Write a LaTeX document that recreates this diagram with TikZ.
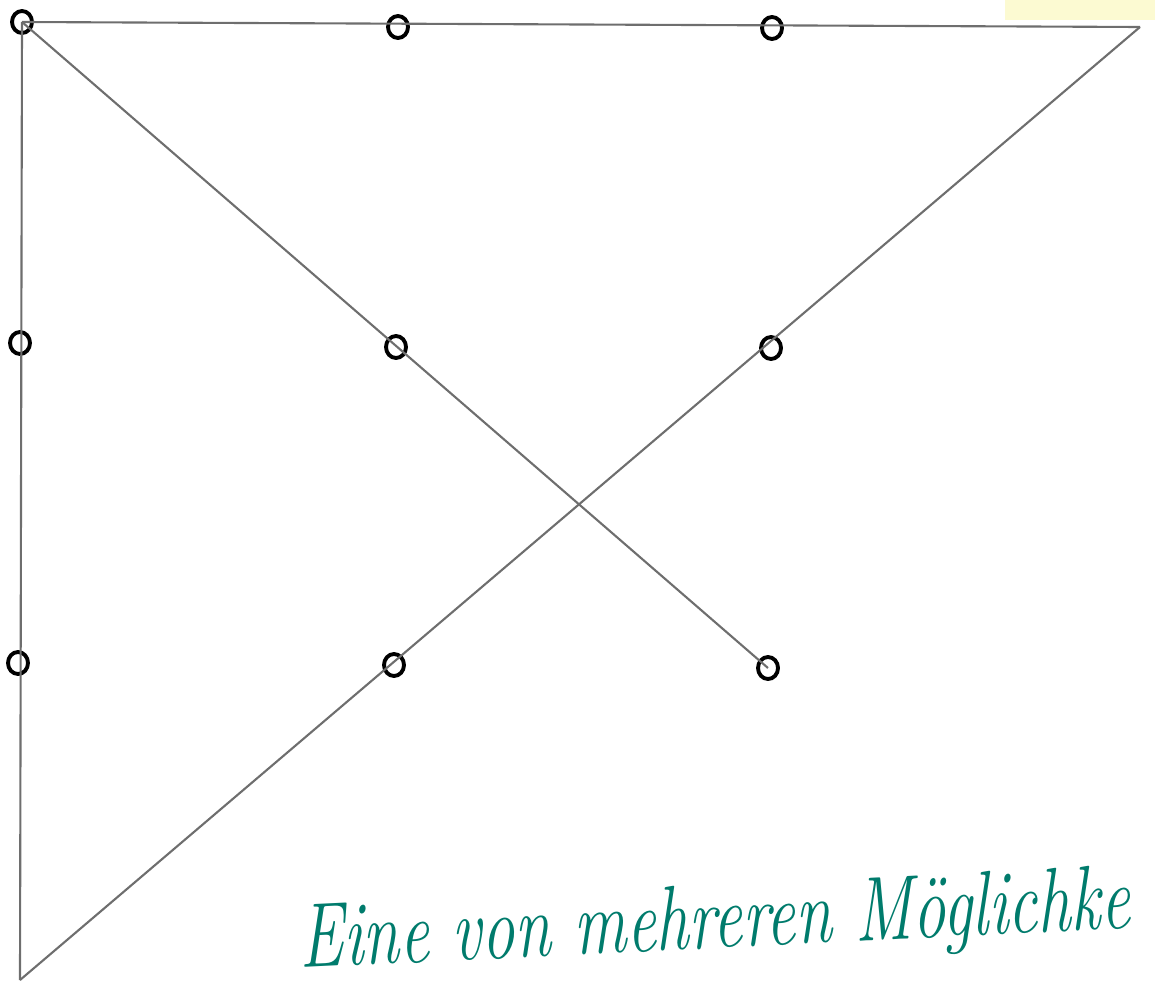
\documentclass[tikz,border=0pt]{standalone}
\usetikzlibrary{shapes.geometric}
\definecolor{inkgreen}{HTML}{007B6C}
\definecolor{pencil}{HTML}{6E6E6E}
\definecolor{paperyellow}{HTML}{FCFAD2}
\begin{document}
\begin{tikzpicture}[x=0.01cm, y=-0.01cm,
      dot/.style={ellipse, draw, line width=1.1pt,
                  minimum width=0.2cm, minimum height=0.22cm, inner sep=0pt},
      stroke/.style={draw=pencil, line width=0.6pt},
      note/.style={text=inkgreen, font=\fontsize{26}{30}\selectfont\itshape,
                   anchor=base west, xscale=0.72, rotate=2, inner sep=0pt}
    ]
    \useasboundingbox (0,0) rectangle (1155,988);
    \fill[paperyellow] (1005,0) rectangle (1155,20);
    % the nine points
    \node[dot] (d11) at (22, 22)   {};
    \node[dot] (d12) at (398, 27)  {};
    \node[dot] (d13) at (772, 28)  {};
    \node[dot] (d21) at (20, 343)  {};
    \node[dot] (d22) at (396, 347) {};
    \node[dot] (d23) at (771, 348) {};
    \node[dot] (d31) at (18, 663)  {};
    \node[dot] (d32) at (394, 665) {};
    \node[dot] (d33) at (768, 668) {};
    \coordinate (tr) at (1140, 27);
    \coordinate (bl) at (20, 980);
    % four strokes
    \draw[stroke] (d11.center) -- (tr);
    \draw[stroke] (tr) -- (bl);
    \draw[stroke] (bl) -- (d11.center);
    \draw[stroke] (d11.center) -- (d33.center);
    \node[note] (txt) at (300, 968) {Eine von mehreren Möglichke};
  \end{tikzpicture}
\end{document}
